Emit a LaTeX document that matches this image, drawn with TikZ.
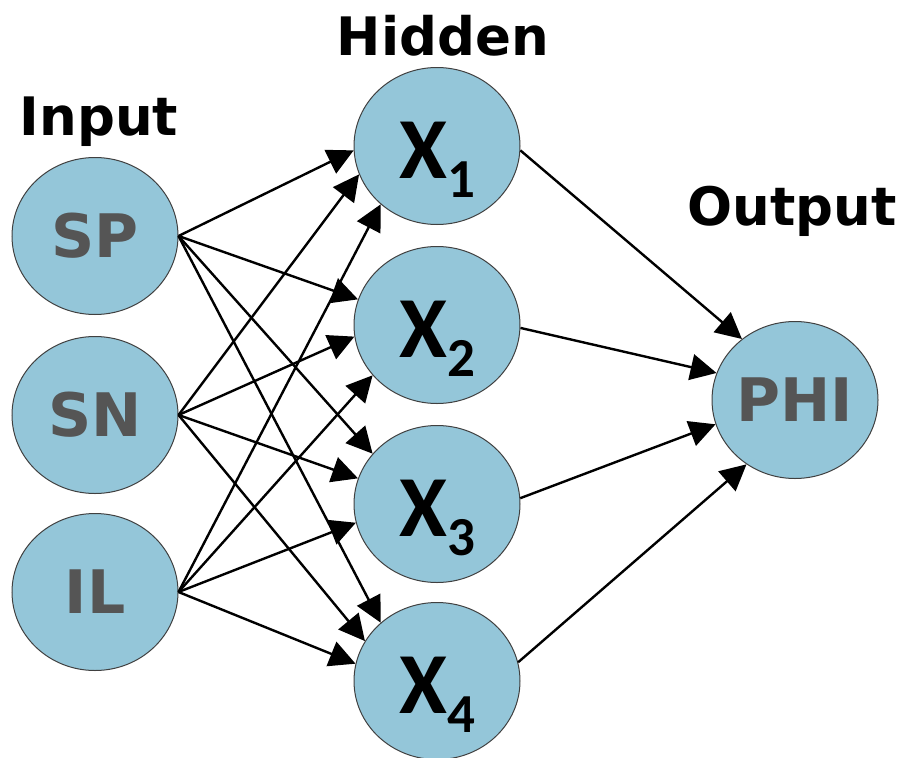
\documentclass[tikz,border=0pt]{standalone}
\usepackage{fontspec}
\setmainfont{DejaVu Sans}
\newfontfamily\hidfont{Carlito}
\usetikzlibrary{arrows.meta,shapes.geometric}
\definecolor{nodeblue}{RGB}{148,198,217}
\definecolor{labelgray}{RGB}{85,85,85}
\newcommand{\hid}[1]{\raisebox{-32pt}[0pt][0pt]{\hidfont\fontsize{87}{87}\selectfont\bfseries X\raisebox{-19pt}{\fontsize{55}{55}\selectfont #1}}}
\tikzset{bighead/.tip={Triangle[length=26pt,width=26pt]}}

\begin{document}
\begin{tikzpicture}[x=1pt,y=-1pt,
	neuron/.style={ellipse,draw=black!75,line width=1pt,fill=nodeblue,
		minimum width=166pt,minimum height=157pt,inner sep=0pt},
	inlabel/.style={font=\fontsize{60}{60}\selectfont\bfseries,text=labelgray},
	head/.style={font=\fontsize{53}{53}\selectfont\bfseries,anchor=base},
	link/.style={line width=2.4pt,arrows={-bighead}}]
	\useasboundingbox (0,0) rectangle (900,758);
	% layer titles
	\node[head] (tin) at (99,135) {Input};
	\node[head] (thid) at (443,55) {Hidden};
	\node[head] (tout) at (792,225) {Output};
	% input layer
	\node[neuron,inlabel] (SP) at (95,236) {SP};
	\node[neuron,inlabel] (SN) at (95,415) {SN};
	\node[neuron,inlabel] (IL) at (95,592) {IL};
	% hidden layer
	\node[neuron] (X1) at (437,146) {\hid{1}};
	\node[neuron] (X2) at (437,325) {\hid{2}};
	\node[neuron] (X3) at (437,504) {\hid{3}};
	\node[neuron] (X4) at (437,681) {\hid{4}};
	% output
	\node[neuron,inlabel] (PHI) at (795,400) {PHI};
	\foreach \src/\dst/\da in {SP/X1/183, SN/X1/200, IL/X1/226,
		SP/X2/162, SN/X2/188, IL/X2/218,
		SP/X3/142, SN/X3/162, IL/X3/193,
		SP/X4/134, SN/X4/151, IL/X4/168}
		\draw[link] (\src.east) -- (\dst.\da);
	\foreach \src/\sa/\da in {X1/357/131, X2/358/161, X3/4/197, X4/13/233}
		\draw[link] (\src.\sa) -- (PHI.\da);
\end{tikzpicture}
\end{document}
